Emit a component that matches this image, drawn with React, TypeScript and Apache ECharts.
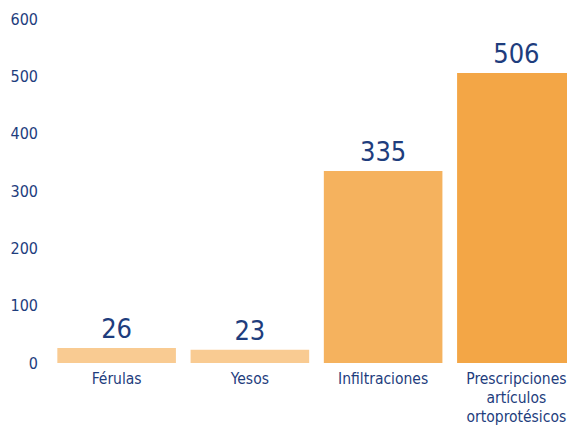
import React, { useEffect, useRef } from "react";
import * as echarts from "echarts";

const categories = ["Férulas", "Yesos", "Infiltraciones", "Prescripciones\nartículos\nortoprotésicos"];
const values = [26, 23, 335, 506];
const barColors = ["#F9CB92", "#F9CB92", "#F5B25E", "#F3A646"];
const yTicks = [0, 100, 200, 300, 400, 500, 600];

const FONT = "'DejaVu Sans Condensed', 'DejaVu Sans', sans-serif";
const TEXT = "#1E3D7D";

export default function App() {
  const ref = useRef<HTMLDivElement>(null);
  useEffect(() => {
    if (!ref.current) return;
    const chart = echarts.init(ref.current, undefined, { renderer: "svg" });
    chart.setOption({
      animation: false,
      grid: { left: 50, right: 0, top: 19, bottom: 62, containLabel: false, outerBoundsMode: "none" },
      xAxis: {
        type: "category",
        data: categories,
        axisLine: { show: false },
        axisTick: { show: false },
        axisLabel: {
          color: TEXT,
          fontFamily: FONT,
          fontSize: 15.5,
          lineHeight: 19,
          margin: 6,
          interval: 0,
        },
      },
      yAxis: {
        type: "value",
        min: yTicks[0],
        max: yTicks[yTicks.length - 1],
        interval: 100,
        splitLine: { show: false },
        axisLine: { show: false },
        axisTick: { show: false },
        axisLabel: {
          color: TEXT,
          fontFamily: FONT,
          fontSize: 16,
          margin: 12,
        },
      },
      series: [
        {
          type: "bar",
          data: values.map((v, i) => ({ value: v, itemStyle: { color: barColors[i] } })),
          barCategoryGap: "11%",
          label: {
            show: true,
            position: "top",
            distance: 6,
            color: TEXT,
            fontFamily: FONT,
            fontSize: 27,
          },
        },
      ],
    });
    return () => chart.dispose();
  }, []);
  return (
    <div style={{ position: "absolute", left: 0, top: 0, width: 567, height: 425, overflow: "hidden", background: "#fff" }}>
      <div ref={ref} style={{ width: 583, height: 425 }} />
    </div>
  );
}
